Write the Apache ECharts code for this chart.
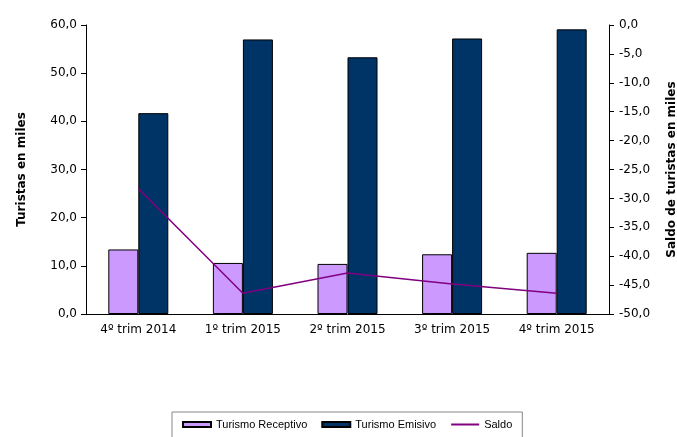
<!DOCTYPE html>
<html>
<head>
<meta charset="utf-8">
<script src="https://cdn.jsdelivr.net/npm/echarts@6/dist/echarts.min.js"></script>
<style>
  html, body { margin: 0; padding: 0; background: #fff; }
  #chart { width: 677px; height: 437px; }
</style>
</head>
<body>
<div id="chart"></div>
<script>
var categories = ['4º trim 2014', '1º trim 2015', '2º trim 2015', '3º trim 2015', '4º trim 2015'];
var receptivo = [13.4, 10.6, 10.4, 12.4, 12.7];
var emisivo = [41.7, 57.0, 53.3, 57.2, 59.1];
var saldo = [-28.3, -46.4, -42.9, -44.8, -46.4];

var fmt = function (v) { return v.toFixed(1).replace('.', ','); };
var axisFont = { fontFamily: 'DejaVu Sans', fontSize: 12, color: '#000' };

var chart = echarts.init(document.getElementById('chart'));
var option = {
    animation: false,
    backgroundColor: '#fff',
    grid: { left: 86, right: 68, top: 25, bottom: 123, outerBoundsMode: 'none' },
    legend: {
        left: 172,
        top: 412,
        padding: [7, 10, 12, 10],
        borderColor: '#888',
        borderWidth: 1,
        itemWidth: 28,
        itemHeight: 5,
        itemGap: 14,
        textStyle: { fontFamily: 'Liberation Sans', fontSize: 11, color: '#000' },
        data: [
            { name: 'Turismo Receptivo', icon: 'rect' },
            { name: 'Turismo Emisivo', icon: 'rect' },
            { name: 'Saldo', itemStyle: { opacity: 0 } }
        ]
    },
    xAxis: {
        type: 'category',
        data: categories,
        axisLine: { lineStyle: { color: '#000' } },
        axisTick: { length: 5, lineStyle: { color: '#000' } },
        axisLabel: Object.assign({ margin: 10 }, axisFont)
    },
    yAxis: [
        {
            type: 'value',
            min: 0, max: 60, interval: 10,
            name: 'Turistas en miles',
            nameLocation: 'middle',
            nameRotate: 90,
            nameGap: 58,
            nameTextStyle: { fontFamily: 'DejaVu Sans', fontSize: 12, fontWeight: 'bold', color: '#000' },
            axisLine: { show: true, lineStyle: { color: '#000' } },
            axisTick: { show: true, length: 5, lineStyle: { color: '#000' } },
            axisLabel: Object.assign({ formatter: fmt, margin: 9 }, axisFont),
            splitLine: { show: false }
        },
        {
            type: 'value',
            min: -50, max: 0, interval: 5,
            name: 'Saldo de turistas en miles',
            nameLocation: 'middle',
            nameRotate: 90,
            nameGap: 57,
            nameTextStyle: { fontFamily: 'DejaVu Sans', fontSize: 12, fontWeight: 'bold', color: '#000' },
            axisLine: { show: true, lineStyle: { color: '#000' } },
            axisTick: { show: true, length: 5, lineStyle: { color: '#000' } },
            axisLabel: Object.assign({ formatter: fmt, margin: 10 }, axisFont),
            splitLine: { show: false }
        }
    ],
    series: [
        {
            name: 'Turismo Receptivo',
            type: 'bar',
            data: receptivo,
            barWidth: 30,
            barGap: '0%',
            itemStyle: { color: '#CC99FF', borderColor: '#000', borderWidth: 1 }
        },
        {
            name: 'Turismo Emisivo',
            type: 'bar',
            data: emisivo,
            barWidth: 30,
            barGap: '0%',
            itemStyle: { color: '#003366', borderColor: '#000', borderWidth: 1 }
        },
        {
            name: 'Saldo',
            type: 'line',
            yAxisIndex: 1,
            data: saldo,
            symbol: 'none',
            lineStyle: { color: '#800080', width: 1.5 },
            itemStyle: { color: '#800080' }
        }
    ]
};
chart.setOption(option);
</script>
</body>
</html>
